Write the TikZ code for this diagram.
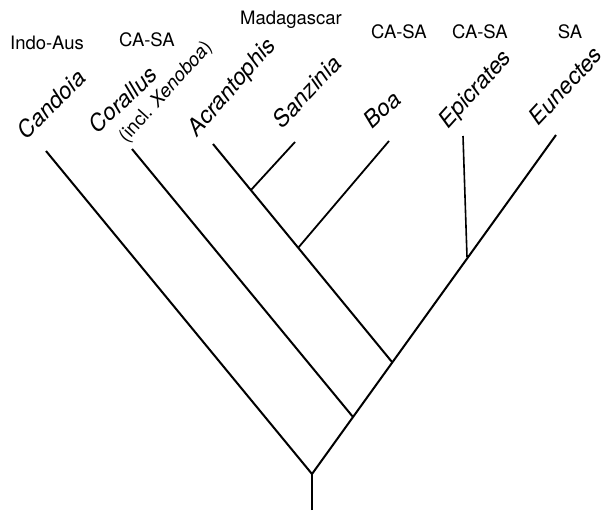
\documentclass[tikz,border=0pt]{standalone}
\usepackage{fontspec}
\setmainfont{TeX Gyre Heros}
\usepackage{tikz}

\begin{document}
\begin{tikzpicture}[x=1pt, y=-1pt, line width=2pt,
    taxon/.style={anchor=base west, inner sep=0pt, font=\fontsize{23}{23}\selectfont\itshape},
    area/.style={anchor=base, inner sep=0pt, font=\fontsize{18.5}{18.5}\selectfont}]
    \useasboundingbox (0,0) rectangle (607,513);
    % branch points
    \coordinate (base) at (312,510);
    \coordinate (root) at (312,474);
    \coordinate (n1) at (353,417);
    \coordinate (n2) at (392,362);
    \coordinate (n3) at (298,248);
    \coordinate (n4) at (251,190);
    \coordinate (n5) at (467,257);
    % tips
    \coordinate (tCan) at (46,151);
    \coordinate (tCor) at (132,149);
    \coordinate (tAcr) at (213,144);
    \coordinate (tSan) at (295,142);
    \coordinate (tBoa) at (389,141);
    \coordinate (tEpi) at (463,136);
    \coordinate (tEun) at (556,135);
    % tree
    \draw (base) -- (root);
    \draw (root) -- (tCan);
    \draw (root) -- (tEun);
    \draw (n1) -- (tCor);
    \draw (n2) -- (tAcr);
    \draw[line width=1.8pt] (n4) -- (tSan);
    \draw[line width=1.8pt] (n3) -- (tBoa);
    \draw[line width=1.6pt] (n5) -- (tEpi);
    % genera
    \node[taxon, rotate=45] (Can) at (26,141) {Candoia};
    \node[taxon, rotate=43] (Cor) at (97,135) {Corallus};
    \node[taxon, rotate=48, font=\fontsize{19}{19}\selectfont] (Xen) at (126,144) {(incl. \textit{Xenoboa})};
    \node[taxon, rotate=49] (Acr) at (197,138) {Acrantophis};
    \node[taxon, rotate=47] (San) at (282,130) {Sanzinia};
    \node[taxon, rotate=43] (Boa) at (372,130) {Boa};
    \node[taxon, rotate=48] (Epi) at (448,130) {Epicrates};
    \node[taxon, rotate=47] (Eun) at (538,127) {Eunectes};
    % distributions
    \node[area] (aCan) at (47,50) {Indo-Aus};
    \node[area] (aCor) at (147,47) {CA-SA};
    \node[area] (aMad) at (291,25) {Madagascar};
    \node[area] (aBoa) at (399,39) {CA-SA};
    \node[area] (aEpi) at (480,39) {CA-SA};
    \node[area] (aEun) at (570,39) {SA};
\end{tikzpicture}
\end{document}
